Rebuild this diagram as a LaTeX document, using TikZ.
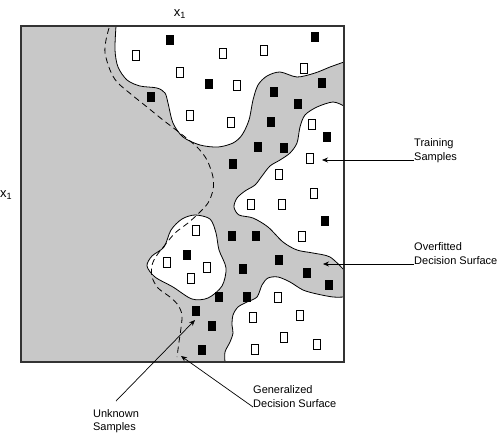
\documentclass[tikz,border=0pt]{standalone}
\usepackage{fontspec}
\setmainfont{Liberation Sans}
\usepackage{xcolor}
\usepackage{tikz}
\usetikzlibrary{arrows.meta}

\definecolor{boxgray}{RGB}{200,200,200}

\tikzset{
    region/.style={fill=white, draw=black, line width=0.8pt},
    emptysq/.style={draw=black, fill=white, line width=0.7pt, minimum width=7pt, minimum height=10pt, inner sep=0pt},
    fullsq/.style={fill=black, minimum width=8pt, minimum height=10pt, inner sep=0pt},
    lbl/.style={font=\fontsize{11}{13.5}\selectfont, align=left, inner sep=0pt},
    axis/.style={font=\fontsize{13}{15}\selectfont, inner sep=0pt},
    pointer/.style={-{Stealth[length=6pt, width=5pt]}, line width=0.7pt}
}

\begin{document}
\begin{tikzpicture}[x=1pt, y=-1pt]
            \useasboundingbox (0,0) rectangle (500,437);

            % Feature space
            \fill[boxgray] (21,26) rectangle (344,362);

            % Overfitted regions
            \draw[region] plot[smooth] coordinates {(116,26) (115,50) (118,67) (127,80) (140,86) (157,88) (165,93) (168,103) (173,123) (183,137) (200,145) (218,147) (233,143) (242,135) (249,120) (253,100) (258,85) (267,76) (280,72) (297,77) (315,73) (330,67) (344,62)} -- (344,26) -- cycle;
            \draw[region] plot[smooth] coordinates {(344,106) (333,102) (317,107) (305,115) (300,127) (297,143) (290,153) (280,160) (270,166) (262,176) (255,185) (245,191) (237,198) (234,207) (239,215) (253,218) (268,227) (283,242) (297,250) (313,253) (330,257) (344,270)} -- cycle;
            \draw[region] plot[smooth] coordinates {(344,297) (333,297) (317,294) (303,290) (290,282) (278,277) (268,278) (262,285) (257,297) (247,302) (238,307) (233,315) (232,325) (233,333) (230,342) (225,352) (225,362)} -- (344,362) -- cycle;
            \draw[region] plot[smooth cycle] coordinates {(195,215) (210,219) (216,233) (219,250) (226,268) (222,286) (208,298) (192,299) (173,287) (155,277) (147,266) (152,256) (164,247) (171,230) (182,219)};

            % Generalized surface
            \draw[line width=0.8pt, dash pattern=on 6pt off 4pt] plot[smooth] coordinates {(109,28) (106,40) (105,53) (110,70) (117,82) (132,95) (147,107) (163,120) (180,133) (197,147) (207,160) (213,177) (213,190) (208,203) (199,213) (188,223) (175,233) (165,245) (157,255) (152,265) (152,277) (158,288) (170,297) (178,305) (182,315) (181,328) (179,342) (177,357)};

            % Samples
            \foreach \x/\y [count=\i] in {136/55, 223/53, 180/72, 237/85, 190/115, 231/122, 264/50, 304/68, 312/124, 310/158, 279/174, 314/193, 251/204, 282/204, 302/236, 196/230, 167/262, 207/267, 191/278, 278/297, 300/315, 253/317, 284/337, 317/344, 255/349}
                \node[emptysq] (open\i) at (\x,\y) {};
            \foreach \x/\y [count=\i] in {170/40, 209/84, 151/97, 233/164, 315/37, 322/83, 274/92, 298/104, 271/122, 327/137, 258/147, 284/148, 325/221, 187/255, 232/236, 256/236, 243/269, 279/260, 307/273, 329/285, 219/297, 247/297, 196/311, 212/326, 202/350}
                \node[fullsq] (solid\i) at (\x,\y) {};

            \draw[line width=1.3pt, draw=black!80] (21,26) rectangle (344,362);

            % Axes
            \node[axis, anchor=base] (xtop) at (180,16) {x\textsubscript{1}};
            \node[axis, anchor=base west] (xleft) at (0,197) {x\textsubscript{1}};

            % Labels
            \node[lbl, anchor=base west] (train) at (414,160) {Training\\Samples};
            \node[lbl, anchor=base west] (overfit) at (414,264) {Overfitted\\Decision Surface};
            \node[lbl, anchor=north, inner ysep=8pt] (unknown) at (116,401) {Unknown\\Samples};
            \node[lbl, anchor=base west] (general) at (253,407) {Generalized\\Decision Surface};

            \coordinate (trainpt) at (322,160);
            \coordinate (overfitpt) at (323,264);
            \coordinate (unknownpt) at (195,320);
            \coordinate (generalpt) at (181,356);

            \draw[pointer] (train.base west) -- (trainpt);
            \draw[pointer] (overfit.base west) -- (overfitpt);
            \draw[pointer] (unknown.north) -- (unknownpt);
            \draw[pointer] (general.base west) -- (generalpt);
        \end{tikzpicture}
\end{document}
